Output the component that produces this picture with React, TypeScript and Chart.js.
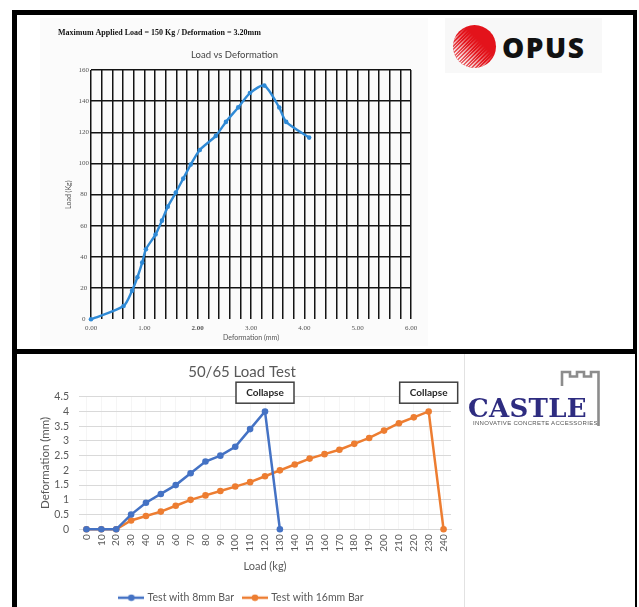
import React, { useEffect, useRef } from 'react';
import { Chart, registerables } from 'chart.js';

Chart.register(...registerables);

// ---------- Top chart (OPUS): Load vs Deformation ----------
const topHeader = 'Maximum Applied Load = 150 Kg / Deformation = 3.20mm';
const topTitle = 'Load vs Deformation';
const deformationMm = [0, 0.61, 0.77, 0.87, 0.96, 1.03, 1.21, 1.33, 1.44, 1.59, 1.73, 1.87, 2.04, 2.34, 2.53, 2.76, 2.98, 3.25, 3.53, 3.66, 4.09];
const loadKg = [0, 8.5, 18.4, 27, 36.4, 45, 54.4, 63.3, 72.3, 81.3, 90.3, 99.3, 108.7, 117.7, 126.7, 136, 145.2, 150, 135.9, 126.7, 116.6];
const topXTitle = 'Deformation (mm)';
const topYTitle = 'Load (Kg)';

// ---------- Bottom chart (CASTLE): 50/65 Load Test ----------
const bottomTitle = '50/65 Load Test';
const loadLabels = ['0', '10', '20', '30', '40', '50', '60', '70', '80', '90', '100', '110', '120', '130', '140', '150', '160', '170', '180', '190', '200', '210', '220', '230', '240'];
const test8mm = [0, 0, 0, 0.5, 0.9, 1.2, 1.5, 1.9, 2.3, 2.5, 2.8, 3.4, 4.0, 0, null, null, null, null, null, null, null, null, null, null, null];
const test16mm = [0, 0, 0, 0.3, 0.45, 0.6, 0.8, 1.0, 1.15, 1.3, 1.45, 1.6, 1.8, 2.0, 2.2, 2.4, 2.55, 2.7, 2.9, 3.1, 3.35, 3.6, 3.8, 4.0, 0];
const deformationTicks = [0, 0.5, 1, 1.5, 2, 2.5, 3, 3.5, 4, 4.5];
const seriesNames = ['Test with 8mm Bar', 'Test with 16mm Bar'];
const seriesColors = ['#4472C4', '#ED7D31'];
const collapseAt = ['120', '230'];
const collapseText = ['Collapse', 'Collapse'];
const bottomXTitle = 'Load (kg)';
const bottomYTitle = 'Deformation (mm)';

const collapsePlugin = {
  id: 'collapseNotes',
  afterDatasetsDraw(chart: any) {
    const { ctx, chartArea, scales } = chart;
    const x = scales.x;
    collapseAt.forEach((lbl, i) => {
      const idx = chart.data.labels.indexOf(lbl);
      const cx = x.getPixelForValue(idx);
      const cy = chartArea.top - 4;
      const w = 58;
      const h = 21;
      ctx.save();
      ctx.fillStyle = '#ffffff';
      ctx.fillRect(cx - w / 2, cy - h / 2, w, h);
      ctx.strokeStyle = '#404040';
      ctx.lineWidth = 1.5;
      ctx.strokeRect(cx - w / 2, cy - h / 2, w, h);
      ctx.font = 'bold 10px Lato';
      ctx.fillStyle = '#262626';
      ctx.textAlign = 'center';
      ctx.textBaseline = 'middle';
      ctx.fillText(collapseText[i], cx, cy + 0.5);
      ctx.restore();
    });
  },
};

function makeLegendIcon(color: string) {
  const c = document.createElement('canvas');
  c.width = 26;
  c.height = 8;
  const g = c.getContext('2d')!;
  g.strokeStyle = color;
  g.lineWidth = 2.5;
  g.beginPath();
  g.moveTo(0, 4);
  g.lineTo(26, 4);
  g.stroke();
  g.fillStyle = color;
  g.beginPath();
  g.arc(13, 4, 3.3, 0, Math.PI * 2);
  g.fill();
  return c;
}

export default function App() {
  const topRef = useRef<HTMLCanvasElement>(null);
  const botRef = useRef<HTMLCanvasElement>(null);

  useEffect(() => {
    const tickFont = { family: 'Liberation Serif', size: 7 };
    const top = new Chart(topRef.current!, {
      type: 'scatter',
      data: {
        datasets: [
          {
            data: deformationMm.map((d, i) => ({ x: d, y: loadKg[i] })),
            showLine: true,
            borderColor: '#2f8ad6',
            backgroundColor: '#2f8ad6',
            borderWidth: 2.4,
            pointRadius: 2.3,
            pointBorderWidth: 0,
            tension: 0.25,
            clip: false,
          } as any,
        ],
      },
      options: {
        animation: false,
        responsive: false,
        layout: { padding: { left: 18, right: 17, top: 0, bottom: 3.8 } },
        plugins: {
          legend: { display: false },
          tooltip: { enabled: false },
          title: {
            display: true,
            text: topHeader,
            align: 'start',
            color: '#111',
            font: { family: 'Liberation Serif', size: 8, weight: 'bold' },
            padding: { top: 10.2, bottom: 4 },
          },
          subtitle: {
            display: true,
            text: topTitle,
            color: '#444',
            font: { family: 'Lato', size: 9.5 },
            padding: { top: 7.5, bottom: 9.3 },
          },
        },
        scales: {
          x: {
            type: 'linear',
            min: 0,
            max: 6,
            ticks: {
              stepSize: 0.2,
              autoSkip: false,
              maxRotation: 0,
              padding: 4.5,
              color: '#555',
              font: (c: any) => ({ ...tickFont, weight: c.tick && Math.abs(c.tick.value - 2) < 1e-6 ? 'bold' : 'normal' }),
              callback: (v: any) => (Math.abs(v - Math.round(v)) < 1e-6 ? Number(v).toFixed(2) : ''),
            },
            grid: { color: '#141414', lineWidth: 1.5, drawTicks: false },
            border: { display: false },
            title: { display: true, text: topXTitle, color: '#555', font: { family: 'Lato', size: 7 }, padding: { top: 0, bottom: 0 } },
            afterFit: (s: any) => { s.height = 22.9; },
          },
          y: {
            min: 0,
            max: 160,
            ticks: { stepSize: 20, padding: 2, crossAlign: 'center', color: '#555', font: tickFont },
            grid: {
              color: (c: any) => (c.tick && c.tick.value === 0 ? 'rgba(0,0,0,0)' : '#141414'),
              lineWidth: 1.5,
              drawTicks: false,
            },
            border: { display: false },
            title: { display: true, text: topYTitle, color: '#555', font: { family: 'Lato', size: 7 }, padding: { top: 6.8, bottom: 0 } },
            afterFit: (s: any) => { s.width = 33; },
          },
        },
      } as any,
    });

    const icons = seriesColors.map(makeLegendIcon);
    const bot = new Chart(botRef.current!, {
      type: 'line',
      data: {
        labels: loadLabels,
        datasets: [test8mm, test16mm].map((d, i) => ({
          label: seriesNames[i],
          data: d,
          borderColor: seriesColors[i],
          backgroundColor: seriesColors[i],
          borderWidth: 2.5,
          pointRadius: 3.3,
          pointBorderWidth: 0,
          tension: 0,
          spanGaps: false,
          clip: false,
        })) as any,
      },
      options: {
        animation: false,
        responsive: false,
        layout: { padding: { left: 16, right: 13, top: 0, bottom: 1 } },
        plugins: {
          tooltip: { enabled: false },
          title: {
            display: true,
            text: bottomTitle,
            color: '#595959',
            font: { family: 'Lato', size: 15, weight: 'normal' },
            padding: { top: 8.7, bottom: 16 },
          },
          legend: {
            position: 'bottom',
            labels: {
              usePointStyle: true,
              pointStyleWidth: 22,
              padding: 10,
              color: '#595959',
              font: { family: 'Lato', size: 10.5 },
              generateLabels: (chart: any) =>
                chart.data.datasets.map((ds: any, i: number) => ({
                  text: ds.label,
                  pointStyle: icons[i],
                  fillStyle: seriesColors[i],
                  strokeStyle: seriesColors[i],
                  lineWidth: 0,
                  hidden: false,
                  datasetIndex: i,
                  fontColor: '#595959',
                })),
            },
          },
        },
        scales: {
          x: {
            offset: true,
            ticks: { autoSkip: false, maxRotation: 90, minRotation: 90, padding: 5, color: '#595959', font: { family: 'Lato', size: 10 } },
            grid: { color: 'rgba(0,0,0,0.04)', drawTicks: false },
            border: { display: true, color: '#d9d9d9' },
            title: { display: true, text: bottomXTitle, color: '#595959', font: { family: 'Lato', size: 11 }, padding: { top: 0, bottom: 9.2 } },
            afterFit: (s: any) => { s.height = 53.2; },
          },
          y: {
            min: 0,
            max: 4.5,
            ticks: { autoSkip: false, padding: 10, color: '#595959', font: { family: 'Lato', size: 10.5 }, callback: (v: any) => String(v) },
            afterBuildTicks: (s: any) => { s.ticks = deformationTicks.map((v) => ({ value: v })); },
            grid: { color: '#d9d9d9', drawTicks: false },
            border: { display: false },
            title: { display: true, text: bottomYTitle, color: '#595959', font: { family: 'Lato', size: 11.5 }, padding: { top: 5.4, bottom: 0 } },
            afterFit: (s: any) => { s.width = 46; },
          },
        },
      } as any,
      plugins: [collapsePlugin],
    });

    return () => {
      top.destroy();
      bot.destroy();
    };
  }, []);

  const abs = (s: React.CSSProperties): React.CSSProperties => ({ position: 'absolute', ...s });

  return (
    <div style={abs({ left: 0, top: 0, width: 639, height: 607, overflow: 'hidden', background: '#fff' })}>
      {/* top panel frame */}
      <div style={abs({ left: 12, top: 10, width: 625, height: 344, boxSizing: 'border-box', borderTop: '5px solid #000', borderLeft: '5px solid #000', borderRight: '4px solid #000', borderBottom: '5px solid #000' })} />
      {/* bottom panel frame */}
      <div style={abs({ left: 12, top: 354, width: 625, height: 260, boxSizing: 'border-box', borderLeft: '5px solid #000', borderRight: '2.5px solid #000' })} />
      <div style={abs({ left: 464, top: 354, width: 1, height: 253, background: '#e2e2e2' })} />

      {/* top chart */}
      <div style={abs({ left: 40, top: 18, width: 388, height: 328, background: '#fbfbfb' })}>
        <canvas ref={topRef} width={388} height={328} style={{ display: 'block', width: 388, height: 328 }} />
      </div>

      {/* OPUS logo */}
      <div style={abs({ left: 445, top: 18, width: 157, height: 55, background: '#f8f8f8' })} />
      <div style={abs({ left: 453, top: 25, width: 43, height: 43, borderRadius: '50%', background: '#e3131b', overflow: 'hidden' })}>
        <div
          style={abs({
            left: 0,
            top: 0,
            width: 43,
            height: 43,
            background: 'repeating-linear-gradient(135deg, rgba(248,248,248,0.95) 0px, rgba(248,248,248,0.95) 1.2px, rgba(248,248,248,0) 1.2px, rgba(248,248,248,0) 2.6px)',
            WebkitMaskImage: 'linear-gradient(45deg, #000 15%, rgba(0,0,0,0) 62%)',
            maskImage: 'linear-gradient(45deg, #000 15%, rgba(0,0,0,0) 62%)',
          } as any)}
        />
        <div style={abs({ left: 0, top: 0, width: 43, height: 43, background: 'linear-gradient(45deg, rgba(248,248,248,0.6) 0%, rgba(248,248,248,0) 45%)' })} />
      </div>
      <div style={abs({ left: 502, top: 33, fontFamily: '"Open Sans"', fontWeight: 800, fontSize: 28, lineHeight: '28px', letterSpacing: 1.5, color: '#111' })}>OPUS</div>

      {/* bottom chart */}
      <div style={abs({ left: 17, top: 354, width: 447, height: 260 })}>
        <canvas ref={botRef} width={447} height={260} style={{ display: 'block', width: 447, height: 260 }} />
      </div>

      {/* CASTLE logo */}
      <svg style={abs({ left: 0, top: 0, width: 639, height: 607, overflow: 'visible', pointerEvents: 'none' })} width={639} height={607}>
        <polyline
          points="562,386 562,372 570,372 570,376.5 577,376.5 577,372 584,372 584,376.5 591,376.5 591,372 598.5,372 598.5,426"
          fill="none"
          stroke="#8c8c8c"
          strokeWidth={2.6}
        />
      </svg>
      <div style={abs({ left: 468, top: 395, fontFamily: '"DejaVu Serif"', fontWeight: 700, fontSize: 26, lineHeight: '26px', letterSpacing: 0.3, color: '#2e2c80', background: 'transparent' })}>CASTLE</div>
      <div style={abs({ left: 473, top: 419, fontFamily: '"Liberation Sans"', fontSize: 6, lineHeight: '8px', letterSpacing: 0.3, color: '#555', whiteSpace: 'nowrap' })}>INNOVATIVE CONCRETE ACCESSORIES</div>
    </div>
  );
}
